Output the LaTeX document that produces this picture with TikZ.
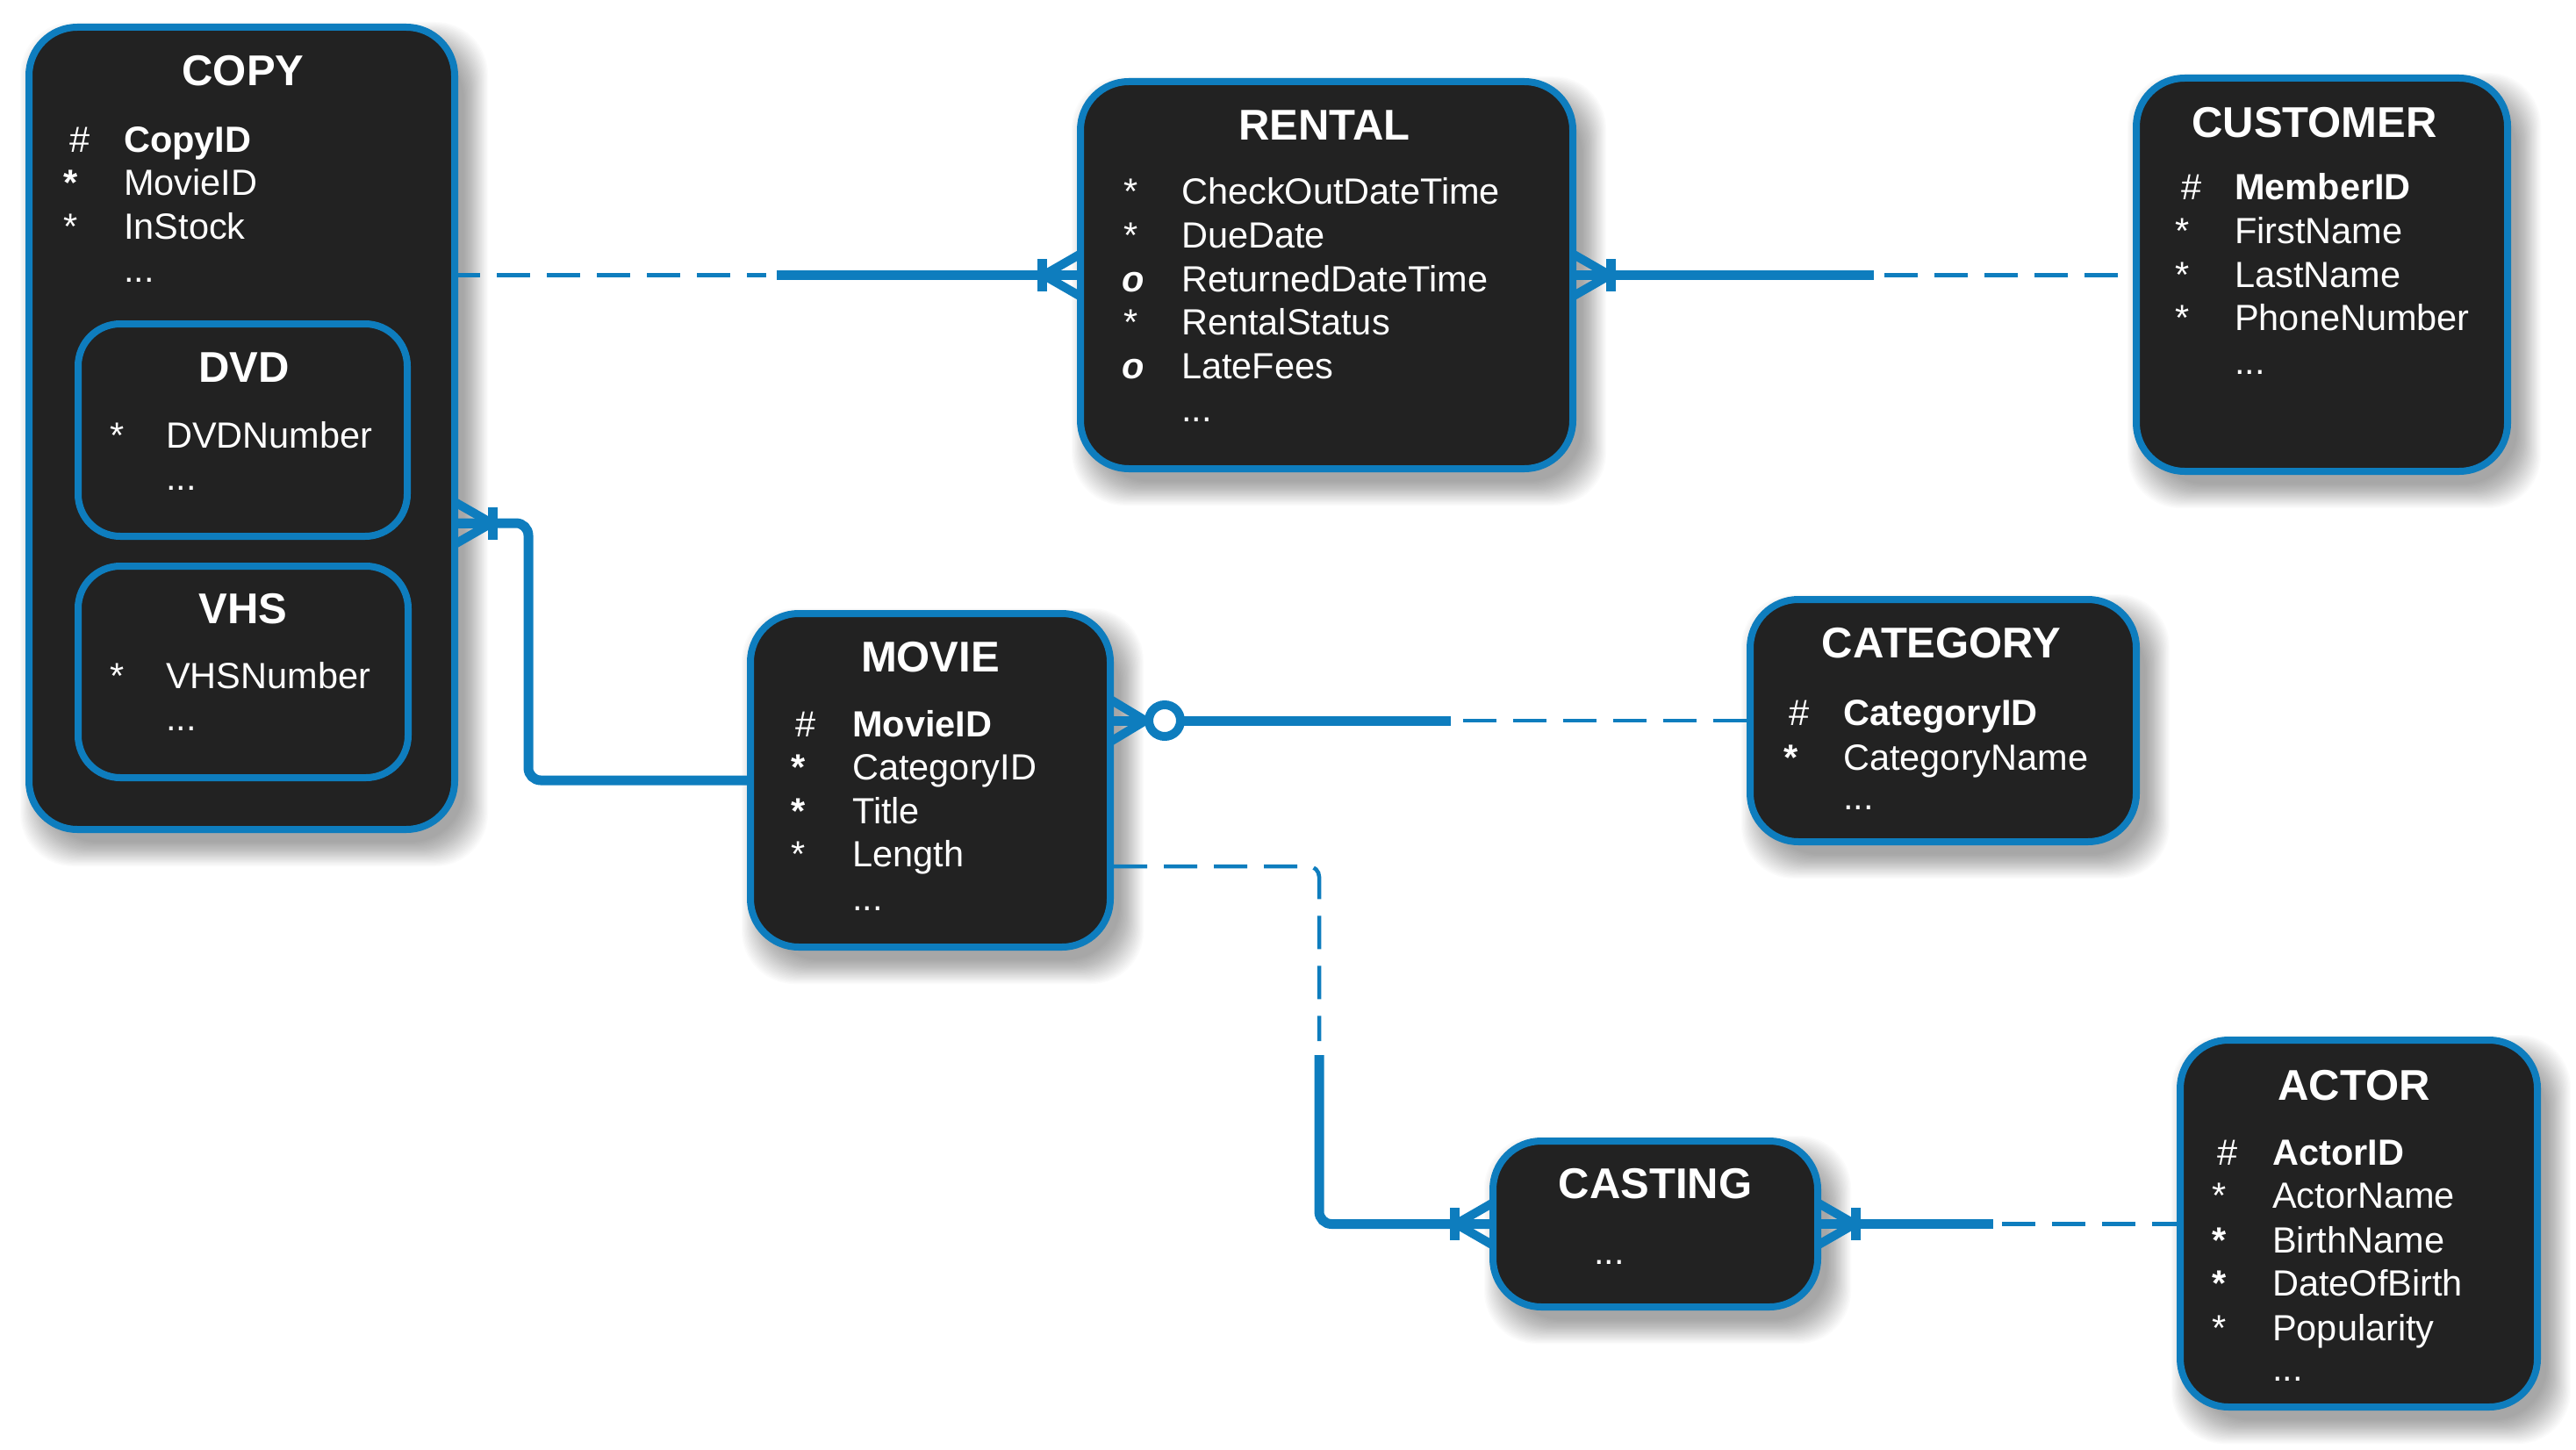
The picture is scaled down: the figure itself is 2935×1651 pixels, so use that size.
\documentclass[tikz,border=0pt]{standalone}
\usepackage{fontspec}
\setmainfont{Liberation Sans}
\usetikzlibrary{calc}
\pgfdeclarelayer{shadowlayer}
\pgfdeclarelayer{connlayer}
\pgfsetlayers{shadowlayer,connlayer,main}
\definecolor{eblue}{RGB}{14,125,190}
\definecolor{efill}{RGB}{34,34,34}
\newcommand{\eshadow}[2]{%
  \foreach \k in {0,...,23}{%
    \fill[black, opacity=0.016, rounded corners=#2]
      ($(#1.north west)+(-6+1.2*\k, -2+1.2*\k)$) rectangle ($(#1.south east)+(34-1.2*\k, 38-1.2*\k)$);
  }}
\begin{document}
\begin{tikzpicture}[x=1pt,y=-1pt,
  entity/.style={draw=eblue, fill=efill, line width=8pt, rounded corners=55pt, inner sep=0pt},
  subentity/.style={entity, rounded corners=48pt},
  ttl/.style={text=white, font=\fontsize{49}{59}\selectfont\bfseries, anchor=base, inner sep=0pt},
  att/.style={text=white, font=\fontsize{41.5}{50}\selectfont, anchor=base west, inner sep=0pt},
  attb/.style={text=white, font=\fontsize{41.5}{50}\selectfont\bfseries, anchor=base west, inner sep=0pt},
  atto/.style={text=white, font=\fontsize{41.5}{50}\selectfont\bfseries\itshape, anchor=base west, inner sep=0pt},
  solidc/.style={draw=eblue, line width=11pt},
  dashc/.style={draw=eblue, line width=4.5pt, dash pattern=on 38pt off 19pt},
  pics/manyone/.style={code={
    \draw[eblue, line width=10pt, line join=round] (-6,-25.3) -- (38,0) -- (-6,25.3);
    \draw[eblue, line width=11pt] (-6,0) -- (38,0);
    \draw[eblue, line width=11pt] (39.5,-18.5) -- (39.5,18.5);
  }},
  pics/zeromany/.style={code={
    \draw[eblue, line width=10pt, line join=round] (-6,-25.3) -- (36,0) -- (-6,25.3);
    \draw[eblue, line width=11pt] (-6,0) -- (40,0);
    \draw[eblue, line width=10pt, fill=white] (58,0) circle[radius=18pt];
  }},
]
\useasboundingbox (0,0) rectangle (2935,1651);

% ---------- entities ----------
\node[entity, minimum width=485pt, minimum height=914pt] (copy) at (275.5,488) {};
\node[subentity, minimum width=375pt, minimum height=242pt] (dvd) at (276.5,490) {};
\node[subentity, minimum width=376pt, minimum height=241pt] (vhs) at (277,765.5) {};
\node[entity, minimum width=561pt, minimum height=441pt] (rental) at (1511.5,313.5) {};
\node[entity, minimum width=423pt, minimum height=448pt] (customer) at (2645.5,313) {};
\node[entity, minimum width=410pt, minimum height=380pt] (movie) at (1060,889) {};
\node[entity, minimum width=440pt, minimum height=276pt] (category) at (2214,821) {};
\node[entity, minimum width=370pt, minimum height=189pt] (casting) at (1886,1394.5) {};
\node[entity, minimum width=407pt, minimum height=418pt] (actor) at (2687.5,1394) {};

% ---------- shadows ----------
\begin{pgfonlayer}{shadowlayer}
\fill[white] (0,0) rectangle (2935,1651);
\eshadow{copy}{60pt}
\eshadow{rental}{60pt}
\eshadow{customer}{60pt}
\eshadow{movie}{60pt}
\eshadow{category}{60pt}
\eshadow{casting}{60pt}
\eshadow{actor}{60pt}
\end{pgfonlayer}

% ---------- connectors ----------
\begin{pgfonlayer}{connlayer}
% COPY - RENTAL
\coordinate (crS) at (885,313.5);
\draw[dashc, dash phase=13pt] (copy.east |- rental.west) -- ([xshift=-12pt]crS);
\draw[solidc] (crS) -- (rental.west);
\pic[rotate=180] at (rental.west) {manyone};
% RENTAL - CUSTOMER
\coordinate (rcS) at (2141,313.5);
\draw[solidc] (rental.east) -- ([xshift=-6pt]rcS);
\draw[dashc] ([xshift=6pt]rcS) -- (customer.west |- rental.east);
\pic at (rental.east) {manyone};
% COPY - MOVIE
\coordinate (cmA) at (copy.east |- 0,596);
\coordinate (cmB) at (602,596);
\draw[solidc, rounded corners=14pt] (cmA) -- (cmB) |- (movie.west);
\pic at (cmA) {manyone};
% MOVIE - CATEGORY
\coordinate (mkA) at (movie.east |- category.west);
\coordinate (mkS) at (1660,821);
\draw[solidc] (mkA) -- ([xshift=-7pt]mkS);
\draw[dashc] ([xshift=7pt]mkS) -- (category.west);
\pic at (mkA) {zeromany};
% MOVIE - CASTING
\coordinate (mcA) at (movie.east |- 0,987);
\coordinate (mcB) at (1503,987);
\coordinate (mcS) at (1503,1194);
\draw[dashc, rounded corners=12pt] (mcA) -- (mcB) -- ([yshift=8pt]mcS);
\draw[solidc, rounded corners=14pt] ([yshift=-8pt]mcS) |- (casting.west);
\pic[rotate=180] at (casting.west) {manyone};
% CASTING - ACTOR
\coordinate (caS) at (2276,1394.5);
\draw[solidc] (casting.east) -- ([xshift=-5pt]caS);
\draw[dashc] ([xshift=5pt]caS) -- (actor.west |- casting.east);
\pic at (casting.east) {manyone};
\end{pgfonlayer}

% ---------- COPY texts ----------
\node[ttl] (tcopy) at (277,98) {COPY};
\node[att] (c1s) at (79,173) {\#};
\node[attb] (c1) at (141,173) {CopyID};
\node[attb] (c2s) at (72,222.5) {*};
\node[att] (c2) at (141,222.5) {MovieID};
\node[att] (c3s) at (72,272) {*};
\node[att] (c3) at (141,272) {InStock};
\node[att] (c4) at (141,321.5) {...};
% DVD
\node[ttl] (tdvd) at (278,435) {DVD};
\node[att] (d1s) at (125,510) {*};
\node[att] (d1) at (189,510) {DVDNumber};
\node[att] (d2) at (189,558) {...};
% VHS
\node[ttl] (tvhs) at (277,710) {VHS};
\node[att] (v1s) at (125,784) {*};
\node[att] (v1) at (189,784) {VHSNumber};
\node[att] (v2) at (189,832) {...};

% ---------- RENTAL texts ----------
\node[ttl] (trental) at (1509,159) {RENTAL};
\node[att] (r1s) at (1280,232) {*};
\node[att] (r1) at (1346,232) {CheckOutDateTime};
\node[att] (r2s) at (1280,282) {*};
\node[att] (r2) at (1346,282) {DueDate};
\node[atto] (r3s) at (1278,332) {o};
\node[att] (r3) at (1346,332) {ReturnedDateTime};
\node[att] (r4s) at (1280,381) {*};
\node[att] (r4) at (1346,381) {RentalStatus};
\node[atto] (r5s) at (1278,431) {o};
\node[att] (r5) at (1346,431) {LateFees};
\node[att] (r6) at (1346,480) {...};

% ---------- CUSTOMER texts ----------
\node[ttl] (tcustomer) at (2637,157) {CUSTOMER};
\node[att] (u1s) at (2485,227) {\#};
\node[attb] (u1) at (2546,227) {MemberID};
\node[att] (u2s) at (2478,277) {*};
\node[att] (u2) at (2546,277) {FirstName};
\node[att] (u3s) at (2478,327) {*};
\node[att] (u3) at (2546,327) {LastName};
\node[att] (u4s) at (2478,376) {*};
\node[att] (u4) at (2546,376) {PhoneNumber};
\node[att] (u5) at (2546,426) {...};

% ---------- MOVIE texts ----------
\node[ttl] (tmovie) at (1060,765) {MOVIE};
\node[att] (m1s) at (906,839) {\#};
\node[attb] (m1) at (971,839) {MovieID};
\node[attb] (m2s) at (901,888.5) {*};
\node[att] (m2) at (971,888.5) {CategoryID};
\node[attb] (m3s) at (901,938) {*};
\node[att] (m3) at (971,938) {Title};
\node[att] (m4s) at (901,987.5) {*};
\node[att] (m4) at (971,987.5) {Length};
\node[att] (m5) at (971,1037) {...};

% ---------- CATEGORY texts ----------
\node[ttl] (tcategory) at (2212,749) {CATEGORY};
\node[att] (k1s) at (2038,826) {\#};
\node[attb] (k1) at (2100,826) {CategoryID};
\node[attb] (k2s) at (2032,877) {*};
\node[att] (k2) at (2100,877) {CategoryName};
\node[att] (k3) at (2100,922) {...};

% ---------- CASTING texts ----------
\node[ttl] (tcasting) at (1886,1365) {CASTING};
\node[att] (s1) at (1816,1440) {...};

% ---------- ACTOR texts ----------
\node[ttl] (tactor) at (2682,1253) {ACTOR};
\node[att] (a1s) at (2526,1327) {\#};
\node[attb] (a1) at (2589,1327) {ActorID};
\node[att] (a2s) at (2520,1376) {*};
\node[att] (a2) at (2589,1376) {ActorName};
\node[attb] (a3s) at (2520,1427) {*};
\node[att] (a3) at (2589,1427) {BirthName};
\node[attb] (a4s) at (2520,1476) {*};
\node[att] (a4) at (2589,1476) {DateOfBirth};
\node[att] (a5s) at (2520,1527) {*};
\node[att] (a5) at (2589,1527) {Popularity};
\node[att] (a6) at (2589,1573) {...};
\end{tikzpicture}
\end{document}
